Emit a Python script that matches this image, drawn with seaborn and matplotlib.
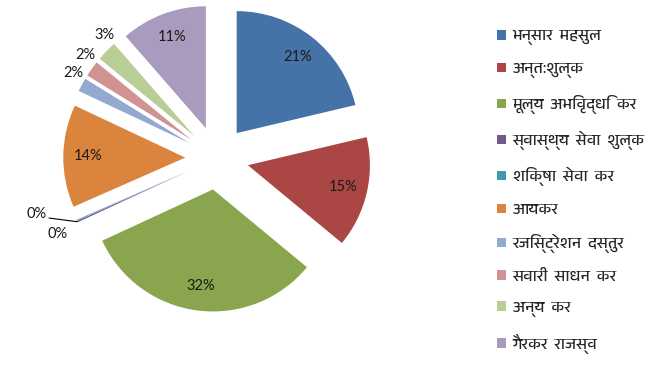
import numpy as np
import matplotlib
matplotlib.use("Agg")
import matplotlib.pyplot as plt
import seaborn as sns
from matplotlib import font_manager
from matplotlib.ft2font import FT2Font

categories = ["भन्सार  महसुल", "अन्त:शुल्क", "मूल्य  अभिवृद्धि  कर", "स्वास्थ्य  सेवा  शुल्क",
              "शिक्षा  सेवा  कर", "आयकर", "रजिस्ट्रेशन  दस्तुर", "सवारी  साधन  कर",
              "अन्य  कर", "गैरकर  राजस्व"]
shares = [21.3, 14.7, 32.1, 0.2, 0.1, 13.6, 1.8, 2.1, 2.7, 11.4]
colors = ["#4572A7", "#AA4643", "#89A54E", "#71588F", "#4198AF",
          "#DB843D", "#93A9CF", "#D19392", "#B9CD96", "#A99BBD"]


def find_devanagari_font():
    # look for any installed face that has Devanagari glyphs
    found = []
    for f in font_manager.fontManager.ttflist:
        try:
            if 0x0915 in FT2Font(f.fname).get_charmap():
                found.append(f.name)
        except Exception:
            pass
    for name in found:
        if "Devanagari" in name:
            return name
    return found[0] if found else "DejaVu Sans"


deva = find_devanagari_font()

sns.set_style("white")
plt.rcParams['font.family'] = [deva, 'DejaVu Sans']

fig = plt.figure(figsize=(6.5, 3.71), dpi=100)
ax = fig.add_axes([0, 0, 1, 1])

wedges, _ = ax.pie(shares, colors=colors, startangle=90, counterclock=False,
                   explode=[0.26] * len(shares), radius=1,
                   wedgeprops=dict(linewidth=0))

# pixel scale: radius 1 == 122 px, pie centre at (217, 158) from top-left
px = 122.0
ax.set_xlim(-217 / px, (650 - 217) / px)
ax.set_ylim(-(371 - 158) / px, 158 / px)
ax.set_aspect('equal')
ax.axis('off')

lab = dict(fontsize=10.5, family=['Lato', 'DejaVu Sans'], color='#1a1a1a')
zero_seen = 0
for w, s in zip(wedges, shares):
    mid = np.deg2rad((w.theta1 + w.theta2) / 2)
    cx, cy = w.center
    txt = f"{round(s)}%"
    if s >= 5:
        d = 0.8
        ax.text(cx + d * np.cos(mid), cy + d * np.sin(mid), txt,
                ha='center', va='center', **lab)
    elif s >= 1:
        d = 1.11
        a = mid - np.deg2rad(1.6 * s)
        ax.text(cx + d * np.cos(a), cy + d * np.sin(a), txt,
                ha='center', va='center', **lab)
    else:
        if zero_seen == 0:
            x0, y0 = cx + np.cos(mid), cy + np.sin(mid)
            x1, y1 = x0 - 0.23, y0 + 0.03
            ax.plot([x0, x1], [y0, y1], color='black', lw=0.8)
            ax.text(x1 - 0.02, y1 + 0.03, txt, ha='right', va='center', **lab)
        else:
            a = mid + np.deg2rad(2)
            ax.text(cx + 1.19 * np.cos(a), cy + 1.19 * np.sin(a), txt,
                    ha='center', va='center', **lab)
        zero_seen += 1

fig.legend(wedges, categories, loc='upper left',
           bbox_to_anchor=(491 / 650, 1 - 23 / 371), frameon=False,
           handlelength=0.55, handleheight=0.55, handletextpad=0.4,
           labelspacing=1.06, fontsize=11.5, borderaxespad=0)

fig.savefig("out.png", dpi=100)
